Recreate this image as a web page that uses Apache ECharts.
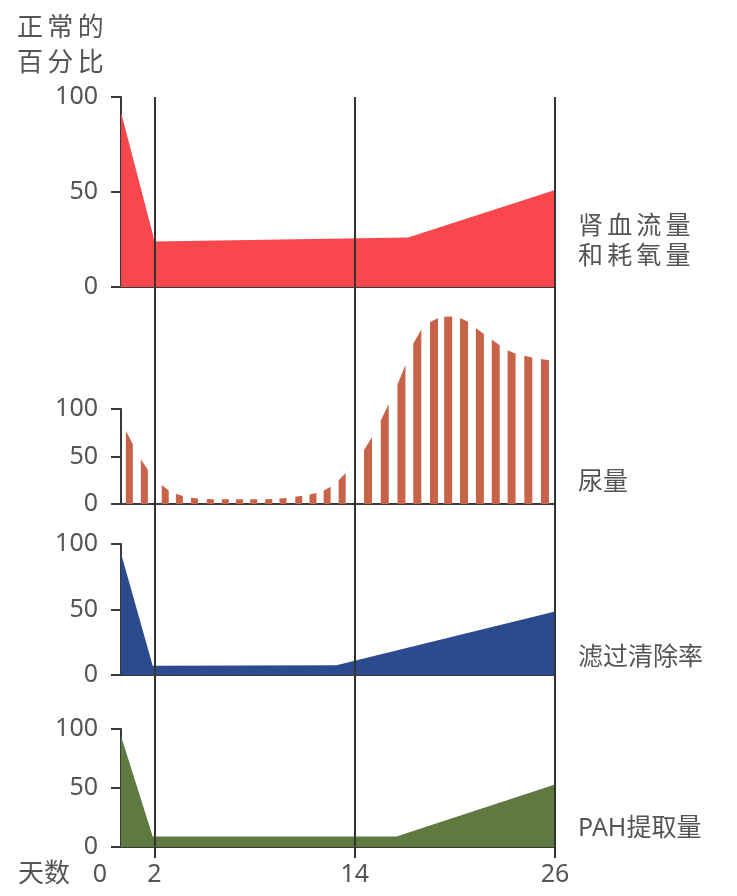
<!DOCTYPE html>
<html>
<head>
<meta charset="utf-8">
<script src="https://cdn.jsdelivr.net/npm/echarts@6/dist/echarts.min.js"></script>
<style>
  html, body { margin: 0; padding: 0; background: #fff; }
  #chart { width: 737px; height: 896px; }
</style>
</head>
<body>
<div id="chart"></div>
<script>
// Days after onset (x axis runs 0–26)
const dayTicks = [0, 2, 14, 26];
const yTicks = [0, 50, 100];

// Renal blood flow and oxygen consumption, % of normal
const bloodFlow = [[0, 92], [1.9, 28], [2, 24], [17.2, 26], [26, 51]];

// Urine volume, % of normal (one bar per sampling)
const urineDays = [0.5, 1.4, 2.65, 3.5, 4.4, 5.35, 6.25, 7.1, 7.95, 8.85, 9.7, 10.65, 11.5, 12.35, 13.25,
                   14.8, 15.8, 16.8, 17.75, 18.75, 19.6, 20.55, 21.5, 22.45, 23.4, 24.4, 25.4];
const urineValues = [70, 40, 16, 9, 6, 5, 5, 5, 5, 5, 6, 8, 10.5, 15, 28,
                     62, 96, 135, 180, 195, 198, 195, 182, 170, 159, 155, 152];

// Glomerular filtration rate, % of normal
const filtration = [[0, 93], [1.9, 7], [12.9, 7.5], [26, 48.5]];

// PAH extraction, % of normal
const pahExtraction = [[0, 94], [1.9, 9], [16.5, 9], [26, 53]];

const panelLabels = ['肾\u2009血\u2009流\u2009量\n和\u2009耗\u2009氧\u2009量', '尿量', '滤过清除率', 'PAH提取量'];

const TXT = '#555';
const AX = '#3a3a3a';
const FONT = '"Noto Sans", "Noto Sans CJK SC", sans-serif';
const NUM = 25;

const panels = [
  { top: 97, height: 190 },
  { top: 409, height: 95 },
  { top: 544, height: 131 },
  { top: 729, height: 118 }
];

const grids = panels.map(p => ({ left: 121, width: 434, top: p.top, height: p.height }));
// overlay grid carrying the long vertical day markers
grids.push({ left: 121, width: 434, top: 97, height: 761 });

const xAxes = panels.map((p, i) => ({
  type: 'value', gridIndex: i, min: 0, max: 26, interval: 2,
  axisLine: { show: true, lineStyle: { color: AX, width: 2 } },
  axisTick: { show: false },
  splitLine: { show: false },
  axisLabel: i === 3 ? {
    show: true, color: TXT, fontSize: NUM, fontFamily: FONT, margin: 15,
    formatter: v => v === 0 ? '{z|0}' : (dayTicks.includes(v) ? String(v) : ''),
    rich: { z: { color: TXT, fontSize: NUM, fontFamily: FONT, padding: [0, 42, 0, 0] } }
  } : { show: false }
}));
xAxes.push({ type: 'value', gridIndex: 4, min: 0, max: 26, show: false });

const yAxes = panels.map((p, i) => ({
  type: 'value', gridIndex: i, min: 0, max: 100, interval: 50,
  axisLine: { show: true, lineStyle: { color: AX, width: 2 } },
  axisTick: { show: true, length: 10, lineStyle: { color: AX, width: 2 } },
  splitLine: { show: false },
  axisLabel: {
    color: TXT, fontSize: NUM, fontFamily: FONT, margin: 23,
    formatter: v => yTicks.includes(v) ? String(v) : ''
  }
}));
yAxes.push({ type: 'value', gridIndex: 4, min: 0, max: 1, show: false });

function areaSeries(idx, data, color) {
  return {
    type: 'line', xAxisIndex: idx, yAxisIndex: idx, data: data,
    symbol: 'none', lineStyle: { width: 0 }, z: 2,
    areaStyle: { color: color, opacity: 1 }
  };
}

// Bars whose tops follow the envelope between neighbouring samples
function renderUrine(params, api) {
  const i = params.dataIndex;
  const n = urineDays.length;
  const c = api.coord([urineDays[i], urineValues[i]]);
  const base = api.coord([urineDays[i], 0]);
  const half = i < 15 ? 3.5 : 4;
  function yAt(px) {
    let j = px < c[0] ? i - 1 : i + 1;
    if (j < 0) j = 1 + i;
    if (j >= n) j = i - 1;
    const o = api.coord([urineDays[j], urineValues[j]]);
    const t = (px - c[0]) / (o[0] - c[0]);
    return c[1] + (o[1] - c[1]) * t;
  }
  const xl = c[0] - half, xr = c[0] + half;
  return {
    type: 'polygon',
    shape: { points: [[xl, base[1]], [xl, yAt(xl)], [xr, yAt(xr)], [xr, base[1]]] },
    style: { fill: '#c8634a' }
  };
}

const series = [
  areaSeries(0, bloodFlow, '#f8474d'),
  {
    type: 'custom', xAxisIndex: 1, yAxisIndex: 1, clip: false, z: 2,
    data: urineDays.map((d, i) => [d, urineValues[i]]),
    renderItem: renderUrine
  },
  areaSeries(2, filtration, '#2c4b8e'),
  areaSeries(3, pahExtraction, '#5e7a40'),
  {
    type: 'line', xAxisIndex: 4, yAxisIndex: 4, data: [], z: 5,
    markLine: {
      silent: true, symbol: 'none', label: { show: false },
      lineStyle: { color: '#333', width: 2, type: 'solid' },
      data: [{ xAxis: 2 }, { xAxis: 14 }, { xAxis: 26 }]
    }
  }
];

const labelY = [227, 483, 658, 829];
const graphic = [
  { type: 'text', left: 17, top: 11,
    style: { text: '正\u2009常\u2009的\n百\u2009分\u2009比', fill: TXT, font: '26px ' + FONT, lineHeight: 35 } },
  { type: 'text', left: 18, top: 862,
    style: { text: '天数', fill: TXT, font: '26px ' + FONT } }
];
panelLabels.forEach((t, i) => {
  graphic.push({
    type: 'text', left: 578, top: labelY[i] - 15,
    style: { text: t, fill: TXT, font: '25px ' + FONT, lineHeight: 30 }
  });
});

const chart = echarts.init(document.getElementById('chart'), null, { renderer: 'canvas' });
chart.setOption({
  backgroundColor: '#fff',
  animation: false,
  grid: grids,
  xAxis: xAxes,
  yAxis: yAxes,
  series: series,
  graphic: graphic
});
</script>
</body>
</html>
